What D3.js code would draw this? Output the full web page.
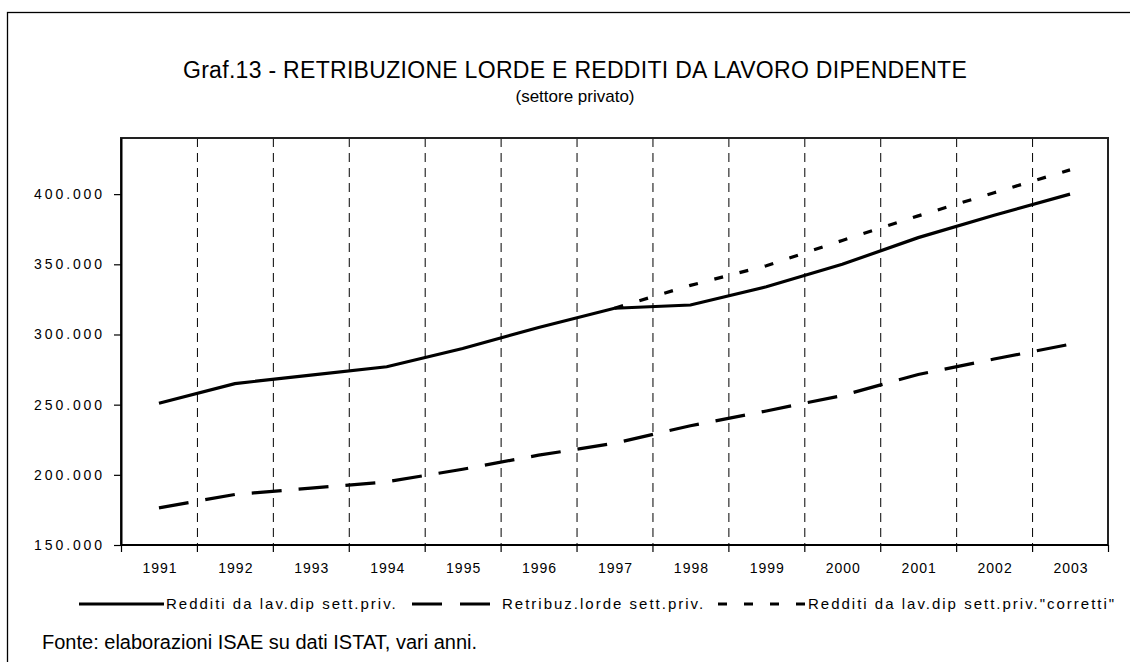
<!DOCTYPE html>
<html>
<head>
<meta charset="utf-8">
<script src="https://cdn.jsdelivr.net/npm/d3@7"></script>
<style>
    body { margin: 0; background: #fff; }
    text { font-family: "Liberation Sans", Arial, sans-serif; fill: #000; }
</style>
</head>
<body>
<div id="chart"></div>
<script>
"use strict";

// data (values in thousands)
const years = ["1991", "1992", "1993", "1994", "1995", "1996", "1997",
    "1998", "1999", "2000", "2001", "2002", "2003"];
const redditi = [251, 265, 271, 277, 290, 305, 318.7, 321, 334, 350, 369, 385, 400];
const retribuz = [176.5, 186, 190.5, 195, 204, 214, 222.5, 235, 245.5, 256.5, 271.5, 282.5, 293];
const corretti = [null, null, null, null, null, null, 318.7, 335, 349, 367, 384.5, 401, 417.3];
const yTicks = [150000, 200000, 250000, 300000, 350000, 400000];

const seriesNames = [
    "Redditi da lav.dip sett.priv.",
    "Retribuz.lorde sett.priv.",
    "Redditi da lav.dip sett.priv.\"corretti\""
];

const msm = {
    width: 1130,
    height: 662,
    left: 121,
    right: 1108,
    top: 138,
    bottom: 545
}

let svg;

window.onload = function () {
    svg = d3.select("#chart")
        .append("svg")
        .attr("width", msm.width)
        .attr("height", msm.height);

    // outer frame, runs off the right and bottom edge
    svg.append("rect")
        .attr("x", 7.5)
        .attr("y", 12.5)
        .attr("width", 1200)
        .attr("height", 800)
        .attr("fill", "none")
        .attr("stroke", "#000")
        .attr("stroke-width", 1.3);

    let scalers = getScalers();
    drawGrid(scalers);
    drawAxes(scalers);
    drawLines(scalers);
    drawTitles();
    drawLegend();
}

function getScalers() {
    let xScale = d3.scaleBand()
        .domain(years)
        .range([msm.left, msm.right])
        .padding(0);
    let yScale = d3.scaleLinear()
        .domain([150000, 440000])
        .range([msm.bottom, msm.top]);
    return { xScale: xScale, yScale: yScale };
}

function drawGrid(scalers) {
    let bounds = years.slice(1).map(y => scalers.xScale(y));
    svg.append("g")
        .selectAll("line")
        .data(bounds)
        .enter()
        .append("line")
        .attr("x1", d => d + 0.5)
        .attr("x2", d => d + 0.5)
        .attr("y1", msm.top)
        .attr("y2", msm.bottom)
        .attr("stroke", "#000")
        .attr("stroke-width", 1)
        .attr("stroke-dasharray", "9,6");

    // plot area border
    svg.append("rect")
        .attr("x", msm.left)
        .attr("y", msm.top)
        .attr("width", msm.right - msm.left)
        .attr("height", msm.bottom - msm.top)
        .attr("fill", "none")
        .attr("stroke", "#222")
        .attr("stroke-width", 2);
}

function drawAxes(scalers) {
    const it = d3.formatLocale({ decimal: ",", thousands: ".", grouping: [3], currency: ["", "€"] });

    // y axis
    let yAxis = d3.axisLeft(scalers.yScale)
        .tickValues(yTicks)
        .tickSizeInner(7)
        .tickSizeOuter(0)
        .tickPadding(12)
        .tickFormat(d => it.format(",")(d));
    let yg = svg.append("g")
        .attr("transform", "translate(" + msm.left + ",0)")
        .call(yAxis);
    yg.select(".domain").attr("stroke-width", 2);
    yg.selectAll(".tick line").attr("stroke-width", 1.2);
    yg.selectAll("text")
        .attr("dx", "3")
        .style("font-size", "14px")
        .style("letter-spacing", "2.9px")
        .style("font-family", "\"Liberation Sans\", Arial, sans-serif");

    // x axis: ticks sit on category boundaries
    let bounds = years.map(y => scalers.xScale(y)).concat([msm.right]);
    let xg = svg.append("g");
    xg.append("line")
        .attr("x1", msm.left)
        .attr("x2", msm.right)
        .attr("y1", msm.bottom)
        .attr("y2", msm.bottom)
        .attr("stroke", "#000")
        .attr("stroke-width", 2);
    xg.selectAll(".tk")
        .data(bounds)
        .enter()
        .append("line")
        .attr("class", "tk")
        .attr("x1", d => d + 0.5)
        .attr("x2", d => d + 0.5)
        .attr("y1", msm.bottom)
        .attr("y2", msm.bottom + 7)
        .attr("stroke", "#000")
        .attr("stroke-width", 1.2);
    xg.selectAll("text")
        .data(years)
        .enter()
        .append("text")
        .attr("x", d => scalers.xScale(d) + scalers.xScale.bandwidth() / 2 + 1)
        .attr("y", 573)
        .attr("text-anchor", "middle")
        .style("font-size", "14px")
        .style("letter-spacing", "1px")
        .text(d => d);
}

function drawLines(scalers) {
    let cx = (i) => scalers.xScale(years[i]) + scalers.xScale.bandwidth() / 2;
    let line = d3.line()
        .defined(d => d != null)
        .x((d, i) => cx(i))
        .y(d => scalers.yScale(d * 1000));

    let styles = [
        { data: redditi, dash: null },
        { data: retribuz, dash: "30,17" },
        { data: corretti, dash: "9,17" }
    ];
    svg.append("g")
        .selectAll("path")
        .data(styles)
        .enter()
        .append("path")
        .attr("d", d => line(d.data))
        .attr("fill", "none")
        .attr("stroke", "#000")
        .attr("stroke-width", 3.2)
        .attr("stroke-dasharray", d => d.dash);
}

function drawTitles() {
    svg.append("text")
        .attr("x", 575)
        .attr("y", 78)
        .attr("text-anchor", "middle")
        .style("font-size", "23px")
        .style("letter-spacing", "0.3px")
        .text("Graf.13 - RETRIBUZIONE LORDE E REDDITI DA LAVORO DIPENDENTE");

    svg.append("text")
        .attr("x", 575)
        .attr("y", 102)
        .attr("text-anchor", "middle")
        .style("font-size", "17px")
        .text("(settore privato)");

    svg.append("text")
        .attr("x", 42)
        .attr("y", 649)
        .style("font-size", "20px")
        .text("Fonte: elaborazioni ISAE su dati ISTAT, vari anni.");
}

function drawLegend() {
    // symbol start, symbol end, text start
    let pos = [[79, 164, 166], [412, 491, 502], [718, 806, 808]];
    let dashes = [null, "30,18", "9,17"];
    let lg = svg.append("g");
    seriesNames.forEach((name, i) => {
        lg.append("line")
            .attr("x1", pos[i][0])
            .attr("x2", pos[i][1])
            .attr("y1", 604)
            .attr("y2", 604)
            .attr("stroke", "#000")
            .attr("stroke-width", 3.2)
            .attr("stroke-dasharray", dashes[i]);
        lg.append("text")
            .attr("x", pos[i][2])
            .attr("y", 609)
            .style("font-size", "15px")
            .style("letter-spacing", "2px")
            .text(name);
    });
}
</script>
</body>
</html>
